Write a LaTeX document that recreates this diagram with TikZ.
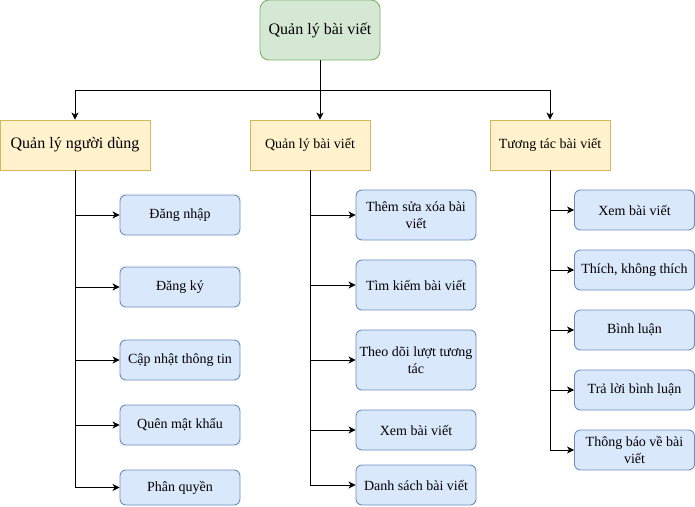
\documentclass[tikz,border=0pt]{standalone}
\usepackage{fontspec}
\setmainfont{Liberation Serif}
\usepackage{tikz}
\usetikzlibrary{arrows.meta}
\tikzset{>={Stealth[length=7pt,width=7pt,inset=2pt]}}
\definecolor{lightgreen}{RGB}{213,232,212}
\definecolor{darkgreen}{RGB}{130,179,102}
\definecolor{lightyellow}{RGB}{255,242,204}
\definecolor{darkyellow}{RGB}{214,182,86}
\definecolor{lightblue}{RGB}{218,232,252}
\definecolor{darkblue}{RGB}{108,142,191}

\begin{document}
\begin{tikzpicture}[x=1pt,y=-1pt,line width=0.9pt,
    root/.style={draw=darkgreen, fill=lightgreen, rounded corners=9pt, minimum width=120pt, minimum height=60pt, font=\fontsize{16}{19}\selectfont},
    group/.style={draw=darkyellow, fill=lightyellow, minimum width=120pt, minimum height=50pt, font=\fontsize{14}{17}\selectfont},
    task/.style={draw=darkblue, fill=lightblue, rounded corners=6pt, minimum width=120pt, minimum height=40pt, inner sep=2pt, align=center, font=\fontsize{14}{17}\selectfont}]
      \useasboundingbox (0,0) rectangle (695,506);
      % root and groups
      \node[root] (top) at (320,30) {Quản lý bài viết};
      \node[group, minimum width=150pt, font=\fontsize{16}{19}\selectfont] (user) at (75,145) {Quản lý người dùng};
      \node[group] (post) at (310,145) {Quản lý bài viết};
      \node[group] (inter) at (550,145) {Tương tác bài viết};
      % user tasks
      \node[task] (u1) at (180,215) {Đăng nhập};
      \node[task] (u2) at (180,287) {Đăng ký};
      \node[task] (u3) at (180,360) {Cập nhật thông tin};
      \node[task] (u4) at (180,425) {Quên mật khẩu};
      \node[task, minimum height=35pt] (u5) at (180,487.5) {Phân quyền};
      % post tasks
      \node[task, minimum height=50pt] (p1) at (416,215) {Thêm sửa xóa bài\\viết};
      \node[task, minimum height=50pt] (p2) at (416,285) {Tìm kiếm bài viết};
      \node[task, minimum height=60pt] (p3) at (416,360) {Theo dõi lượt tương\\tác};
      \node[task] (p4) at (416,430) {Xem bài viết};
      \node[task] (p5) at (416,485) {Danh sách bài viết};
      % interaction tasks
      \node[task] (i1) at (634.5,210) {Xem bài viết};
      \node[task] (i2) at (634.5,270) {Thích, không thích};
      \node[task] (i3) at (634.5,330) {Bình luận};
      \node[task] (i4) at (634.5,390) {Trả lời bình luận};
      \node[task] (i5) at (634.5,450) {Thông báo về bài\\viết};
      % bus from root
      \coordinate (bus) at (320,90);
      \draw (top.south) -- (bus);
      \draw [->] (bus) -| (user.north);
      \draw [->] (bus) -- (bus |- post.north);
      \draw [->] (bus) -| (inter.north);
      % branches
      \foreach \n in {u1,u2,u3,u4,u5} \draw [->] (user.south) |- (\n.west);
      \foreach \n in {p1,p2,p3,p4,p5} \draw [->] (post.south) |- (\n.west);
      \foreach \n in {i1,i2,i3,i4,i5} \draw [->] (inter.south) |- (\n.west);
\end{tikzpicture}
\end{document}
